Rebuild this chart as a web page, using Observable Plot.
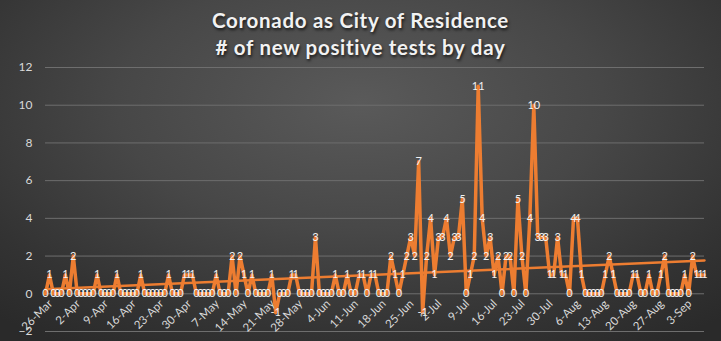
<!DOCTYPE html>
<html><head><meta charset="utf-8">
<script src="https://cdn.jsdelivr.net/npm/d3@7"></script>
<script src="https://cdn.jsdelivr.net/npm/@observablehq/plot@0.6"></script>
<style>
html,body{margin:0;padding:0;}
body{width:721px;height:341px;overflow:hidden;position:relative;
 background: radial-gradient(ellipse 75% 85% at 50% 30%, #5a5a5a 0%, #474747 45%, #333333 80%, #2a2a2a 100%);
 font-family: Lato, "Open Sans", sans-serif;}
#title{position:absolute;left:0;top:0;width:721px;height:60px;text-align:center;color:#f2f2f2;
 font-weight:700;font-size:20.5px;line-height:27px;padding-top:7px;box-sizing:border-box;
 text-shadow: 1px 2px 3px rgba(0,0,0,0.7);letter-spacing:0.7px;}
#chart{position:absolute;left:0;top:60px;}
svg{background:transparent !important;}
</style></head>
<body>
<div id="title">Coronado as City of Residence<br># of new positive tests by day</div>
<div id="chart"></div>
<script>
const startDate = "2020-03-26";
const newTests = [
  0,1,0,0,0,1,0,2,0,0,
  0,0,0,1,0,0,0,0,1,0,
  0,0,0,0,1,0,0,0,0,0,
  0,1,0,0,0,1,1,1,0,0,
  0,0,0,1,0,0,0,2,0,2,
  1,0,1,0,0,0,0,1,-1,0,
  0,0,1,1,0,0,0,0,3,0,
  0,0,0,1,0,0,1,0,0,1,
  1,0,1,1,0,0,0,2,1,0,
  1,2,3,2,7,-1,2,4,1,3,
  3,4,2,3,3,5,0,1,2,11,
  4,2,3,1,2,0,2,2,0,5,
  2,0,4,10,3,3,3,1,1,3,
  1,1,0,4,4,1,0,0,0,0,
  0,1,2,1,0,0,0,0,1,1,
  0,0,1,0,0,1,2,0,0,0,
  0,1,0,2,1,1,1
];
const tickLabels = ["26-Mar","2-Apr","9-Apr","16-Apr","23-Apr","30-Apr","7-May","14-May","21-May","28-May",
  "4-Jun","11-Jun","18-Jun","25-Jun","2-Jul","9-Jul","16-Jul","23-Jul","30-Jul","6-Aug","13-Aug","20-Aug","27-Aug","3-Sep"];
const yTicks = [-2,0,2,4,6,8,10,12];

const day0 = new Date(startDate + "T00:00:00Z");
const addDays = n => new Date(day0.getTime() + n*86400000);
const data = newTests.map((v,i) => ({date: addDays(i), value: v}));
const tickData = tickLabels.map((t,i) => ({date: addDays(i*7), label: t}));

const orange = "#ED7D31";
const txt = "#d9d9d9";
const chart = Plot.plot({
  width: 721, height: 281,
  marginLeft: 45, marginRight: 17, marginTop: 7, marginBottom: 10,
  style: {background: "transparent", fontFamily: "Lato, 'Open Sans', sans-serif"},
  x: {type: "utc", domain: [addDays(0), addDays(newTests.length-1)], axis: null},
  y: {domain: [-2, 12], axis: null},
  marks: [
    Plot.ruleY(yTicks, {stroke: "#6e6e6e", strokeWidth: 1}),
    Plot.axisY(yTicks, {tickSize: 0, tickPadding: 13, fill: txt, fontSize: 12, textAnchor: "end", label: null}),
    Plot.linearRegressionY(data, {x: "date", y: "value", stroke: orange, strokeWidth: 2.5, ci: 0}),
    Plot.lineY(data, {x: "date", y: "value", stroke: orange, strokeWidth: 3.5, strokeLinejoin: "round"}),
    Plot.text(data, {x: "date", y: "value", text: d => String(d.value), fill: "#f2f2f2", fontSize: 11}),
    Plot.text(tickData, {x: "date", y: () => 0, text: "label", rotate: -45, textAnchor: "end",
      fill: txt, fontSize: 11.5, dx: 5, dy: 8})
  ]
});
document.getElementById("chart").appendChild(chart);
</script>
</body></html>
